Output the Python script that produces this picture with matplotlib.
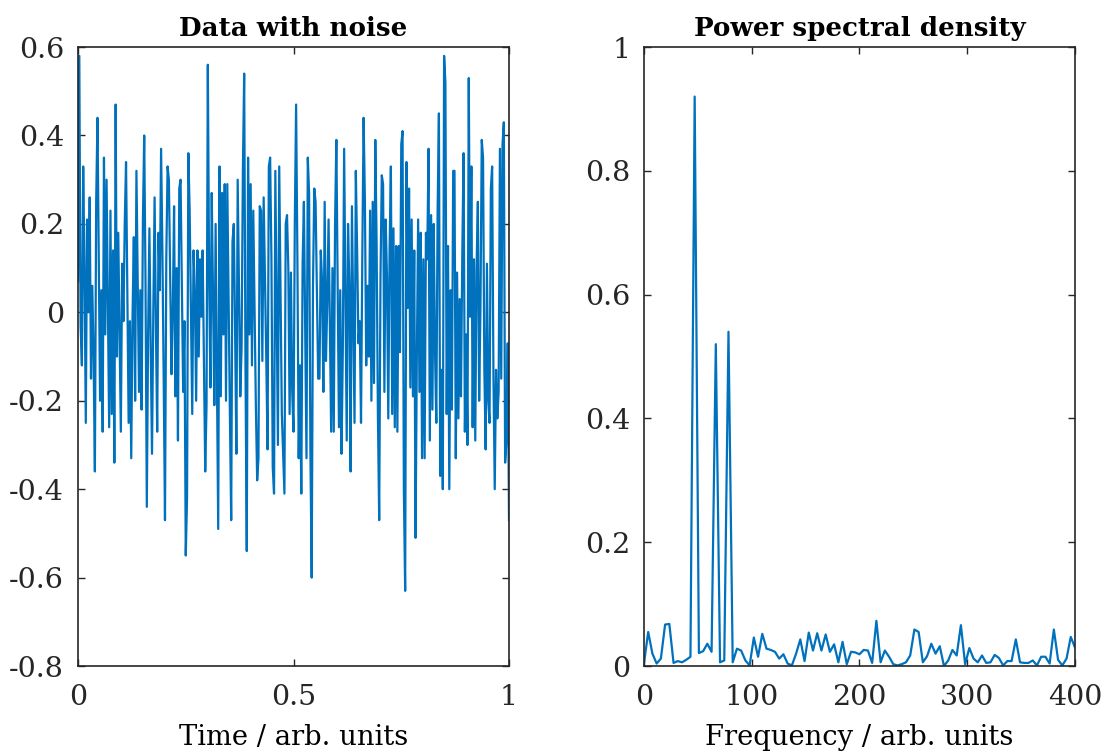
import matplotlib.pyplot as plt
import numpy as np

# noisy time signal (t runs 0..1)
signal = [
    0.07, 0.58, -0.03, -0.12, 0.33, 0.10, -0.25, 0.21, 0.00, 0.26,
    -0.15, 0.06, -0.10, -0.36, 0.25, 0.44, 0.12, -0.20, 0.05, -0.27,
    0.35, -0.05, 0.30, 0.02, -0.26, 0.23, -0.23, 0.14, -0.34, 0.47,
    -0.10, 0.18, -0.05, -0.27, 0.11, -0.02, 0.20, 0.34, 0.05, -0.25,
    -0.02, -0.33, -0.01, 0.17, -0.20, 0.32, 0.08, -0.18, 0.05, -0.22,
    0.21, 0.40, 0.07, -0.44, -0.05, 0.19, -0.08, -0.32, 0.00, 0.26,
    -0.03, -0.27, 0.18, 0.05, 0.37, 0.14, -0.15, -0.47, 0.12, 0.33,
    0.30, 0.08, -0.14, 0.00, 0.24, -0.19, 0.10, -0.29, 0.28, 0.30,
    0.06, -0.18, -0.02, -0.55, -0.42, 0.36, 0.23, 0.00, -0.23, 0.14,
    0.05, -0.20, 0.14, -0.10, 0.12, -0.01, 0.14, -0.12, -0.36, -0.21,
    0.56, 0.08, -0.17, 0.27, 0.04, -0.21, 0.20, -0.15, -0.49,
    0.33, -0.19, 0.27, -0.05, 0.29, -0.20, 0.29, 0.02, -0.23, -0.47,
    0.16, 0.20, -0.04, -0.32, 0.30, 0.05, -0.19, -0.08, 0.32, 0.54,
    -0.12, -0.54, 0.35, -0.05, 0.29, -0.12, 0.23, 0.01, -0.21, -0.38,
    -0.33, 0.24, 0.23, -0.11, 0.26, 0.08, -0.10, -0.31, 0.33, 0.35,
    0.12, -0.35, -0.41, 0.32, 0.01, -0.30, 0.33, 0.05, -0.23, -0.32,
    -0.41, 0.20, 0.22, 0.10, -0.23, 0.09, -0.18, -0.27, 0.20, 0.47,
    0.12, -0.33, -0.12, -0.41, 0.11, 0.25, -0.04, -0.33, 0.35, 0.27,
    -0.31, -0.60, 0.06, 0.28, 0.25, 0.05, -0.15, -0.15, 0.14, 0.07,
    -0.18, 0.25, -0.11, 0.02, 0.21, -0.03, -0.27, 0.10, -0.27, 0.20,
    0.39, 0.06, -0.26, 0.05, -0.32, -0.08, 0.37, 0.04, -0.29, 0.20,
    0.06, -0.36, 0.24, -0.01, -0.25, 0.32, 0.14, -0.07, -0.02, -0.25,
    0.13, 0.44, 0.25, -0.12, 0.06, -0.10, 0.23, -0.20, 0.25, -0.16,
    0.39, 0.16, -0.23, -0.47, 0.08, 0.31, 0.29, -0.18, 0.21, 0.08,
    -0.24, 0.14, 0.33, -0.23, 0.19, -0.26, 0.15, -0.27, 0.15, -0.09,
    0.38, 0.41, -0.40, -0.63, 0.34, 0.01, 0.28, -0.17, 0.21, -0.19,
    0.14, -0.51, -0.10, 0.21, -0.18, 0.18, -0.33, 0.12, -0.33, 0.18,
    0.12, 0.37, -0.29, 0.22, -0.22, 0.20, -0.09, -0.25, 0.23, 0.45,
    -0.37, -0.13, -0.40, 0.58, 0.52, -0.23, 0.15, -0.40, 0.05, -0.22,
    0.32, 0.32, -0.33, 0.09, -0.24, 0.03, -0.19, 0.13, 0.36, -0.27,
    -0.05, -0.30, 0.53, -0.01, 0.33, -0.26, 0.12, -0.29, 0.10, 0.25,
    -0.20, 0.01, 0.39, 0.35, -0.13, -0.31, 0.11, -0.20, -0.25, 0.28,
    0.33, -0.14, -0.40, -0.13, -0.24, -0.18, 0.37, -0.15, 0.38, 0.43,
    -0.34, -0.29, -0.07, -0.47,
]

# power spectral density, 0..400 frequency
psd = [
    0.004, 0.055, 0.020, 0.004, 0.012, 0.067, 0.068, 0.005, 0.008, 0.006,
    0.010, 0.015, 0.920, 0.021, 0.024, 0.036, 0.023, 0.520, 0.006, 0.009,
    0.540, 0.006, 0.028, 0.025, 0.009, 0.001, 0.046, 0.015, 0.052, 0.028,
    0.026, 0.023, 0.012, 0.019, 0.004, 0.001, 0.020, 0.043, 0.008, 0.054,
    0.025, 0.053, 0.025, 0.051, 0.023, 0.035, 0.006, 0.039, 0.003, 0.023,
    0.022, 0.019, 0.026, 0.025, 0.005, 0.073, 0.006, 0.025, 0.015, 0.003,
    0.001, 0.003, 0.006, 0.017, 0.059, 0.055, 0.006, 0.016, 0.036, 0.020,
    0.032, 0.000, 0.009, 0.026, 0.017, 0.066, 0.003, 0.029, 0.012, 0.006,
    0.017, 0.005, 0.006, 0.018, 0.013, 0.001, 0.008, 0.008, 0.043, 0.006,
    0.005, 0.005, 0.009, 0.001, 0.015, 0.015, 0.004, 0.059, 0.010, 0.001,
    0.012, 0.047, 0.030,
]

time_ticks = [0, 0.5, 1]
time_labels = ['0', '0.5', '1']
sig_ticks = [-0.8, -0.6, -0.4, -0.2, 0, 0.2, 0.4, 0.6]
sig_labels = ['-0.8', '-0.6', '-0.4', '-0.2', '0', '0.2', '0.4', '0.6']
freq_ticks = [0, 100, 200, 300, 400]
psd_ticks = [0, 0.2, 0.4, 0.6, 0.8, 1]
psd_labels = ['0', '0.2', '0.4', '0.6', '0.8', '1']

plt.rcParams['font.family'] = 'DejaVu Serif'
plt.rcParams['font.size'] = 20.5

blue = '#0072BD'
dark = '#262626'

fig = plt.figure(figsize=(11.08, 7.53), dpi=100)
ax1 = fig.add_axes([0.0704, 0.1155, 0.389, 0.822])
ax2 = fig.add_axes([0.5812, 0.1155, 0.389, 0.822])

t = np.linspace(0, 1, len(signal))
ax1.plot(t, signal, color=blue, lw=1.6)
ax1.set_xlim(0, 1)
ax1.set_ylim(-0.8, 0.6)
ax1.set_xticks(time_ticks)
ax1.set_xticklabels(time_labels)
ax1.set_yticks(sig_ticks)
ax1.set_yticklabels(sig_labels)
ax1.set_title('Data with noise', fontweight='bold', fontsize=18.8, pad=8)
ax1.set_xlabel('Time / arb. units', fontsize=19.7, labelpad=9)

freq = np.linspace(0, 400, len(psd))
ax2.plot(freq, psd, color=blue, lw=1.6)
ax2.set_xlim(0, 400)
ax2.set_ylim(0, 1)
ax2.set_xticks(freq_ticks)
ax2.set_yticks(psd_ticks)
ax2.set_yticklabels(psd_labels)
ax2.set_title('Power spectral density', fontweight='bold', fontsize=18.8, pad=8)
ax2.set_xlabel('Frequency / arb. units', fontsize=19.7, labelpad=9)

for ax in (ax1, ax2):
    for s in ax.spines.values():
        s.set_color(dark)
        s.set_linewidth(1.2)
    ax.tick_params(direction='in', length=5, width=1.0, color=dark,
                   labelcolor=dark, top=True, right=True)
    ax.tick_params(axis='x', pad=13)
    ax.tick_params(axis='y', pad=10)

fig.savefig('out.png', dpi=100)
